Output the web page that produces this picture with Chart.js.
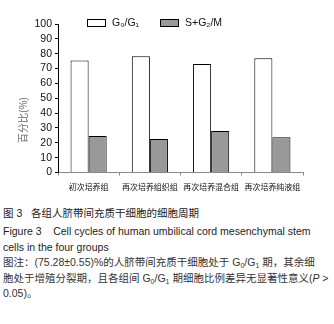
<!DOCTYPE html>
<html><head><meta charset="utf-8">
<script src="https://cdn.jsdelivr.net/npm/chart.js@4/dist/chart.umd.min.js"></script>
<style>
html,body{margin:0;padding:0;background:#fff;}
#wrap{position:relative;width:334px;height:200px;}
#cap{position:absolute;left:3px;top:206px;width:330px;font-family:"Liberation Sans","Noto Sans CJK SC",sans-serif;font-size:10.5px;color:#222;line-height:15.5px;}
#cap div{white-space:nowrap;}
sub{font-size:7px;vertical-align:-2px;line-height:0;}
</style></head>
<body>
<div id="wrap"><canvas id="c" width="334" height="200"></canvas></div>
<div id="cap">
<div style="margin-bottom:2.5px">图 3&nbsp;&nbsp;&nbsp;各组人脐带间充质干细胞的细胞周期</div>
<div>Figure 3&nbsp;&nbsp;&nbsp;&nbsp;Cell cycles of human umbilical cord mesenchymal stem</div>
<div>cells in the four groups</div>
<div style="color:#333">图注：(75.28±0.55)%的人脐带间充质干细胞处于 G<sub>0</sub>/G<sub>1</sub> 期，其余细</div>
<div style="color:#333">胞处于增殖分裂期，且各组间 G<sub>0</sub>/G<sub>1</sub> 期细胞比例差异无显著性意义(<i>P</i> &gt;</div>
<div style="color:#333">0.05)。</div>
</div>
<script>
const categories = ["初次培养组", "再次培养组织组", "再次培养混合组", "再次培养纯液组"];
const seriesNames = ["G₀/G₁", "S+G₂/M"];
const g0g1 = [75.5, 78.2, 73.0, 76.9];
const sg2m = [24.5, 22.5, 27.9, 23.8];
const yTicks = [0, 10, 20, 30, 40, 50, 60, 70, 80, 90, 100];
const yTitle = "百分比(%)";

const legendPlugin = {
  id: 'customLegend',
  afterDraw(chart) {
    const ctx = chart.ctx;
    const pos = [[87, 112], [160, 185]];
    ctx.save();
    chart.data.datasets.forEach((ds, i) => {
      ctx.fillStyle = ds.backgroundColor;
      ctx.strokeStyle = '#000';
      ctx.lineWidth = 1;
      ctx.fillRect(pos[i][0] + 0.5, 19.5, 18, 7);
      ctx.strokeRect(pos[i][0] + 0.5, 19.5, 18, 7);
      ctx.fillStyle = '#111';
      ctx.font = '10.5px "Liberation Sans", Arial, sans-serif';
      ctx.textBaseline = 'middle';
      ctx.textAlign = 'left';
      ctx.fillText(ds.label, pos[i][1], 23);
    });
    // y-axis title
    ctx.translate(23, 120);
    ctx.rotate(-Math.PI / 2);
    ctx.fillStyle = '#666';
    ctx.font = '10px "Noto Sans CJK SC"';
    ctx.textAlign = 'center';
    ctx.textBaseline = 'middle';
    ctx.fillText(yTitle, 0, 0);
    ctx.restore();
  }
};

new Chart(document.getElementById('c'), {
  type: 'bar',
  data: {
    labels: categories,
    datasets: [
      { label: seriesNames[0], data: g0g1, backgroundColor: '#ffffff', borderColor: '#000', borderWidth: 1 },
      { label: seriesNames[1], data: sg2m, backgroundColor: '#999999', borderColor: '#000', borderWidth: 1 }
    ]
  },
  options: {
    responsive: false,
    animation: false,
    events: [],
    layout: { padding: { top: 24, right: 31, left: 0, bottom: 0 } },
    datasets: { bar: { categoryPercentage: 0.59, barPercentage: 1 } },
    plugins: { legend: { display: false }, tooltip: { enabled: false } },
    scales: {
      x: {
        grid: { display: true, drawOnChartArea: false, offset: true, tickLength: 3, color: '#888' },
        border: { color: '#888', width: 1 },
        ticks: { color: '#111', autoSkip: false, font: { family: '"Noto Sans CJK SC"', size: 8 }, padding: 7, maxRotation: 0 },
        afterFit(s) { s.height = 27.5; }
      },
      y: {
        min: 0, max: 100,
        afterBuildTicks(s) { s.ticks = yTicks.map(v => ({ value: v })); },
        grid: { display: true, drawOnChartArea: false, tickLength: 3, color: '#000' },
        border: { color: '#000', width: 1 },
        ticks: { color: '#111', autoSkip: false, font: { family: '"Liberation Sans", Arial', size: 10.5 }, padding: 3 },
        afterFit(s) { s.width = 58; }
      }
    }
  },
  plugins: [legendPlugin]
});
</script>
</body></html>
